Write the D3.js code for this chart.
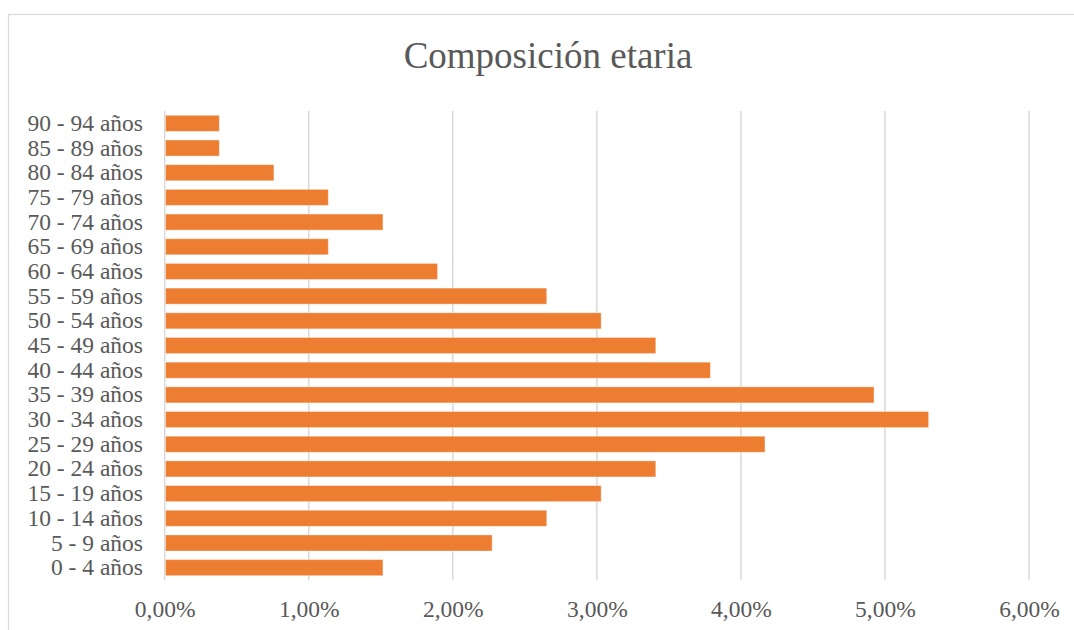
<!DOCTYPE html>
<html>
<head>
<meta charset="utf-8">
<script src="https://cdn.jsdelivr.net/npm/d3@7"></script>
<style>
  html, body { margin: 0; padding: 0; background: #fff; }
  svg { display: block; }
  svg text { font-family: "Liberation Serif", "Times New Roman", Times, serif; }
</style>
</head>
<body>
<svg id="chart" width="1074" height="630"></svg>
<script>
const title = "Composición etaria";
const categories = [
  "0 - 4 años", "5 - 9 años", "10 - 14 años", "15 - 19 años", "20 - 24 años",
  "25 - 29 años", "30 - 34 años", "35 - 39 años", "40 - 44 años", "45 - 49 años",
  "50 - 54 años", "55 - 59 años", "60 - 64 años", "65 - 69 años", "70 - 74 años",
  "75 - 79 años", "80 - 84 años", "85 - 89 años", "90 - 94 años"
];
const values = [
  1.515, 2.273, 2.652, 3.030, 3.409,
  4.167, 5.303, 4.924, 3.788, 3.409,
  3.030, 2.652, 1.894, 1.136, 1.515,
  1.136, 0.758, 0.379, 0.379
];
const xTicks = [0, 1, 2, 3, 4, 5, 6];

(function () {
const svg = d3.select("#chart");
const textColor = "#595959";

// chart border
svg.append("rect")
  .attr("x", 8.5).attr("y", 14.5)
  .attr("width", 1200).attr("height", 800)
  .attr("fill", "none").attr("stroke", "#d9d9d9").attr("stroke-width", 1.2);

const pLeft = 164.7, pRight = 1029, pTop = 111, pBottom = 580;

const x = d3.scaleLinear().domain([0, 6]).range([pLeft, pRight]);
const y = d3.scaleBand().domain(categories.slice().reverse()).range([pTop, pBottom]).paddingInner(0.35).paddingOuter(0.175);

// gridlines
svg.append("g").selectAll("line").data(xTicks).join("line")
  .attr("x1", d => x(d)).attr("x2", d => x(d))
  .attr("y1", pTop).attr("y2", pBottom)
  .attr("stroke", "#d9d9d9").attr("stroke-width", 1.5);

// bars
svg.append("g").selectAll("rect").data(categories).join("rect")
  .attr("x", x(0) + 0.8)
  .attr("y", d => y(d))
  .attr("width", (d, i) => x(values[i]) - x(0) - 0.8)
  .attr("height", y.bandwidth())
  .attr("fill", "#ED7D31")
  .attr("stroke", "rgba(255,255,255,0.35)")
  .attr("stroke-width", 1);

// x axis labels
const xAxis = d3.axisBottom(x).tickValues(xTicks)
  .tickFormat(d => d3.format(".2f")(d).replace(".", ",") + "%")
  .tickSize(0).tickPadding(0);
const gx = svg.append("g").attr("transform", `translate(0,${pBottom})`).call(xAxis);
gx.select(".domain").remove();
gx.attr("font-family", null).attr("font-size", null);
gx.selectAll("text")
  .attr("y", 37).attr("dy", 0)
  .style("font-size", "23.5px").attr("fill", textColor);

// y axis labels
const yAxis = d3.axisLeft(y).tickSize(0).tickPadding(0);
const gy = svg.append("g").attr("transform", `translate(143,0)`).call(yAxis);
gy.select(".domain").remove();
gy.attr("font-family", null).attr("font-size", null);
gy.selectAll("text")
  .attr("x", 0).attr("dy", "0.32em")
  .style("font-size", "23.5px").attr("fill", textColor);

// title
svg.append("text")
  .attr("x", 548).attr("y", 68)
  .attr("text-anchor", "middle")
  .style("font-size", "37px").attr("fill", textColor)
  .text(title);
})();
</script>
</body>
</html>
